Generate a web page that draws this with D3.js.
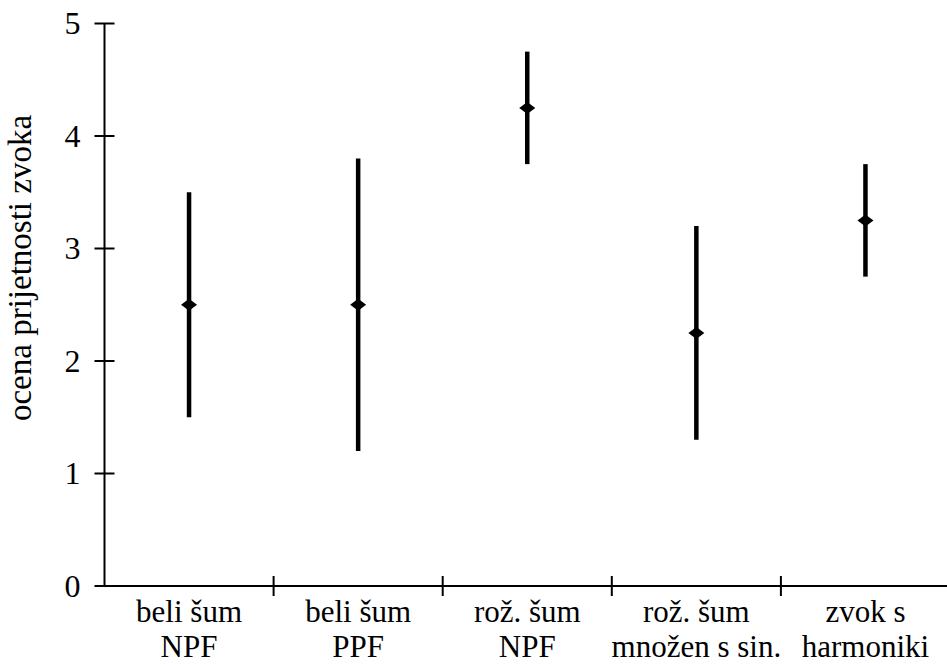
<!DOCTYPE html>
<html>
<head>
<meta charset="utf-8">
<script src="https://cdn.jsdelivr.net/npm/d3@7"></script>
<style>
  body { margin: 0; background: #fff; }
  svg text { font-family: "Liberation Serif", "DejaVu Serif", Times, serif; }
</style>
</head>
<body>
<svg id="chart" width="947" height="664"></svg>
<script>
// data
var categories = [
  ["beli šum", "NPF"],
  ["beli šum", "PPF"],
  ["rož. šum", "NPF"],
  ["rož. šum", "množen s sin."],
  ["zvok s", "harmoniki"]
];
var means = [2.5, 2.5, 4.25, 2.25, 3.25];
var lows = [1.5, 1.2, 3.75, 1.3, 2.75];
var highs = [3.5, 3.8, 4.75, 3.2, 3.75];
var yTicks = [0, 1, 2, 3, 4, 5];
var yLabel = "ocena prijetnosti zvoka";

var svg = d3.select("#chart");

var x = d3.scaleBand()
  .domain(d3.range(categories.length))
  .range([104.5, 950]);

var y = d3.scaleLinear()
  .domain([0, 5])
  .range([586, 23.5]);

// y axis
var yAxis = svg.append("g")
  .attr("transform", "translate(104.5,0)");
yAxis.append("line")
  .attr("y1", y(0)).attr("y2", y(5))
  .attr("stroke", "#000").attr("stroke-width", 2);
yAxis.selectAll(".ytick")
  .data(yTicks)
  .enter().append("line")
  .attr("class", "ytick")
  .attr("x1", -10).attr("x2", 10)
  .attr("y1", d => y(d)).attr("y2", d => y(d))
  .attr("stroke", "#000").attr("stroke-width", 2);
yAxis.selectAll(".ylab")
  .data(yTicks)
  .enter().append("text")
  .attr("class", "ylab")
  .attr("x", -24)
  .attr("y", d => y(d))
  .attr("dy", "0.34em")
  .attr("text-anchor", "end")
  .attr("font-size", 32)
  .text(d => d);

// x axis
var xAxis = svg.append("g");
xAxis.append("line")
  .attr("x1", 104.5).attr("x2", 950)
  .attr("y1", y(0)).attr("y2", y(0))
  .attr("stroke", "#000").attr("stroke-width", 2);
xAxis.selectAll(".xtick")
  .data(d3.range(1, categories.length))
  .enter().append("line")
  .attr("class", "xtick")
  .attr("x1", d => x(d)).attr("x2", d => x(d))
  .attr("y1", y(0) - 10).attr("y2", y(0) + 10)
  .attr("stroke", "#000").attr("stroke-width", 2);
var xl = xAxis.selectAll(".xlab")
  .data(categories)
  .enter().append("text")
  .attr("class", "xlab")
  .attr("text-anchor", "middle")
  .attr("font-size", 31)
  .attr("transform", (d, i) => "translate(" + (x(i) + x.bandwidth() / 2) + ",0)");
xl.append("tspan").attr("x", 0).attr("y", 622).text(d => d[0]);
xl.append("tspan").attr("x", 0).attr("y", 657).text(d => d[1]);

// y label
svg.append("text")
  .attr("transform", "translate(31,268) rotate(-90)")
  .attr("text-anchor", "middle")
  .attr("font-size", 33)
  .text(yLabel);

// error bars
var g = svg.append("g");
g.selectAll(".bar")
  .data(means)
  .enter().append("line")
  .attr("class", "bar")
  .attr("x1", (d, i) => x(i) + x.bandwidth() / 2)
  .attr("x2", (d, i) => x(i) + x.bandwidth() / 2)
  .attr("y1", (d, i) => y(lows[i]))
  .attr("y2", (d, i) => y(highs[i]))
  .attr("stroke", "#000").attr("stroke-width", 4.5);

var diamond = "M-8,0L0,-6L8,0L0,6Z";
g.selectAll(".mean")
  .data(means)
  .enter().append("path")
  .attr("class", "mean")
  .attr("d", diamond)
  .attr("transform", (d, i) => "translate(" + (x(i) + x.bandwidth() / 2) + "," + y(d) + ")")
  .attr("fill", "#000");
</script>
</body>
</html>
